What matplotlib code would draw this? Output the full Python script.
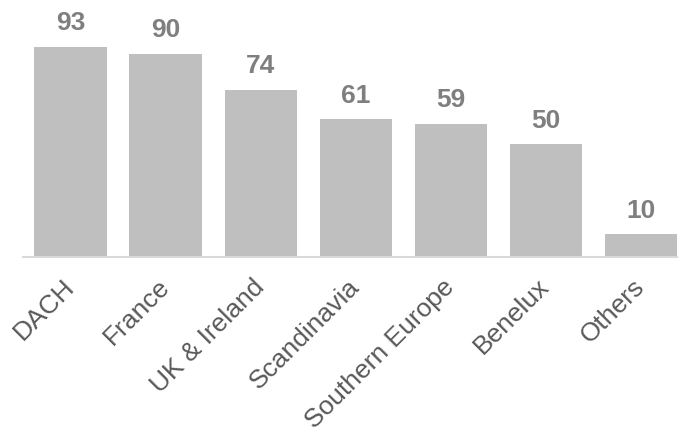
import matplotlib.pyplot as plt

regions = ['DACH', 'France', 'UK & Ireland', 'Scandinavia', 'Southern Europe', 'Benelux', 'Others']
counts = [93, 90, 74, 61, 59, 50, 10]

plt.rcParams['font.family'] = ['Liberation Sans', 'DejaVu Sans']

fig = plt.figure(figsize=(6.78, 4.31), dpi=100)
ax = fig.add_axes([23 / 678, 0.4014, 1 - 23 / 678, 0.5244])

x = range(len(regions))
bars = ax.bar(x, counts, width=0.76, color='#bfbfbf')

for xi, v in zip(x, counts):
    ax.text(xi, v + 5.5, str(v), ha='center', va='bottom',
            fontsize=19, fontweight='bold', color='#7f7f7f')

ax.set_xlim(-0.5, 6.39)
ax.set_ylim(0, 100)
ax.set_yticks([])
ax.set_xticks(list(x))
ax.set_xticklabels(regions, rotation=45, ha='right', va='center',
                   rotation_mode='anchor', fontsize=19, color='#595959')
ax.tick_params(axis='x', length=0, pad=18)

for s in ['top', 'right', 'left']:
    ax.spines[s].set_visible(False)
ax.spines['bottom'].set_color('#d9d9d9')
ax.spines['bottom'].set_linewidth(1.5)

fig.savefig('out.png', dpi=100)
